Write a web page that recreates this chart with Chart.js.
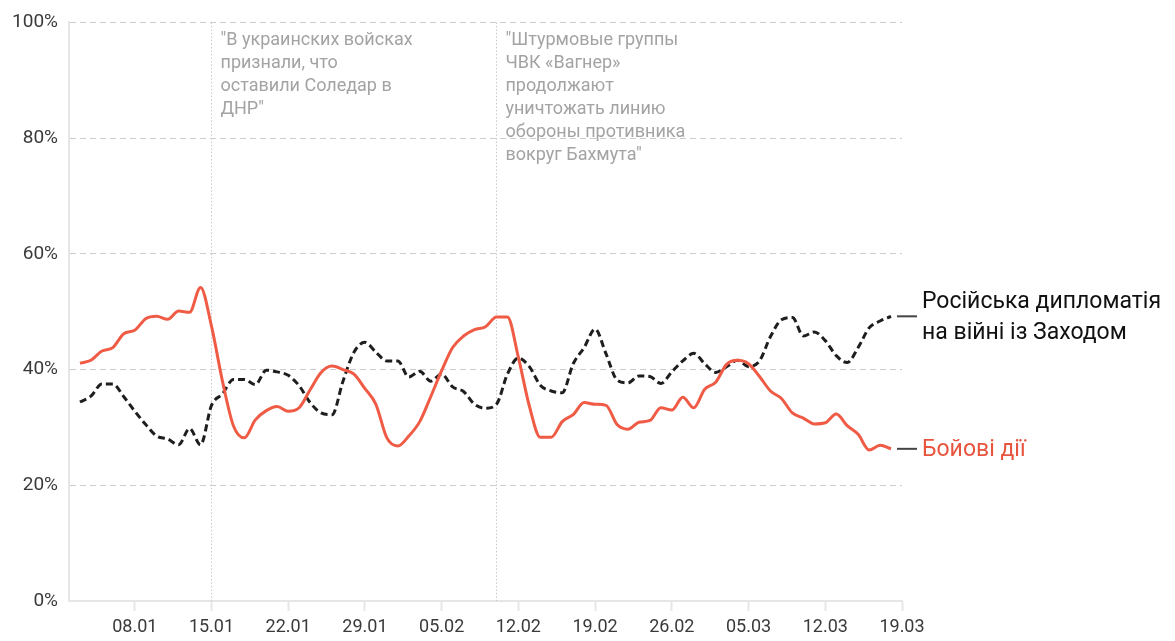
<!DOCTYPE html>
<html><head><meta charset="utf-8">
<script src="https://cdn.jsdelivr.net/npm/chart.js@4.4.1/dist/chart.umd.min.js"></script>
<style>html,body{margin:0;padding:0;background:#fff}#wrap{width:1175px;height:641px;position:relative}</style>
</head><body><div id="wrap"><canvas id="c"></canvas></div>
<script>
// ---- data ----
const dates = ['03.01','04.01','05.01','06.01','07.01','08.01','09.01','10.01','11.01','12.01','13.01','14.01','15.01','16.01','17.01','18.01','19.01','20.01','21.01','22.01','23.01','24.01','25.01','26.01','27.01','28.01','29.01','30.01','31.01','01.02','02.02','03.02','04.02','05.02','06.02','07.02','08.02','09.02','10.02','11.02','12.02','13.02','14.02','15.02','16.02','17.02','18.02','19.02','20.02','21.02','22.02','23.02','24.02','25.02','26.02','27.02','28.02','01.03','02.03','03.03','04.03','05.03','06.03','07.03','08.03','09.03','10.03','11.03','12.03','13.03','14.03','15.03','16.03','17.03','18.03'];
const combat = [41.1,41.6,43.2,43.8,46.2,46.8,48.8,49.2,48.7,50.1,49.9,54.2,47.5,38,30.3,28.2,31.3,32.9,33.6,32.8,33.4,36.5,39.5,40.6,40,39.2,36.7,34,28.2,26.8,28.5,31,35.3,39.8,43.8,45.8,46.9,47.4,49.1,49.1,42.1,33.7,28.3,28.3,31,32.2,34.3,34,33.8,30.5,29.7,30.9,31.2,33.4,33,35.2,33.4,36.6,37.8,40.9,41.6,41,38.8,36.3,35,32.5,31.6,30.6,30.8,32.3,30.3,28.8,26.1,26.9,26.3];
const diplomacy = [34.4,35.4,37.5,37.5,35.3,32.8,30.5,28.5,28,27,29.8,27,33.8,35.8,38.3,38.3,37.4,39.9,39.6,39,37.2,34.3,32.5,32.2,38,43,44.7,43,41.5,41.5,38.7,39.7,38,39.2,37,36.2,34,33.3,34,39.2,42,40.5,37.3,36.3,36,41,43.8,47,42.7,38.2,37.7,38.9,38.8,37.6,39.6,41.5,42.8,41,39.5,40.5,41.6,40.5,41.5,45.7,48.6,49,45.8,46.5,45,42.4,41.2,43.8,47.2,48.4,49.2];
const axisStart = '02.01';
const axisEnd = '19.03';
const tickLabels = ['08.01','15.01','22.01','29.01','05.02','12.02','19.02','26.02','05.03','12.03','19.03'];
const yTicks = [0,20,40,60,80,100];
const seriesNames = ['Бойові дії', ['Російська дипломатія','на війні із Заходом']];
const annotationDates = ['15.01','10.02'];
const annotationTexts = [
  ['"В украинских войсках','признали, что','оставили Соледар в','ДНР"'],
  ['"Штурмовые группы','ЧВК «Вагнер»','продолжают','уничтожать линию','обороны противника','вокруг Бахмута"']
];

// ---- helpers ----
const FONT = 'Roboto, "Noto Sans", sans-serif';
function dayNum(s){const [d,m]=s.split('.').map(Number);const [d0,m0]=axisStart.split('.').map(Number);return (Date.UTC(2023,m-1,d)-Date.UTC(2023,m0-1,d0))/86400000;}
const tickDays = tickLabels.map(dayNum);
const RED = '#ef5b45';

const overlay = {
  id:'overlay',
  beforeDatasetsDraw(chart){
    const {ctx, chartArea:a, scales:{x}} = chart;
    ctx.save();
    ctx.strokeStyle = '#c8c8c8'; ctx.lineWidth = 1; ctx.setLineDash([1.5,2]);
    annotationDates.forEach((d,i)=>{
      const px = Math.round(x.getPixelForValue(dayNum(d)))+0.5;
      ctx.beginPath(); ctx.moveTo(px,a.top); ctx.lineTo(px,a.bottom); ctx.stroke();
    });
    ctx.setLineDash([]);
    ctx.fillStyle = '#a3a3a3'; ctx.font = '18px '+FONT; ctx.textBaseline='middle'; ctx.textAlign='left';
    annotationDates.forEach((d,i)=>{
      const px = x.getPixelForValue(dayNum(d));
      annotationTexts[i].forEach((t,j)=>ctx.fillText(t, px+9, a.top+18+j*23));
    });
    ctx.restore();
  },
  afterDraw(chart){
    const {ctx, chartArea:a, scales:{y}} = chart;
    ctx.save();
    chart.data.datasets.forEach((ds,i)=>{
      const last = ds.data[ds.data.length-1].y;
      const py = y.getPixelForValue(last);
      ctx.strokeStyle = '#444'; ctx.lineWidth = 2;
      ctx.beginPath(); ctx.moveTo(a.right-5, py); ctx.lineTo(a.right+15, py); ctx.stroke();
      ctx.font = '23px '+FONT; ctx.textBaseline='middle'; ctx.textAlign='left';
      ctx.fillStyle = i===0 ? '#e8553f' : '#111';
      const lines = Array.isArray(seriesNames[i]) ? seriesNames[i] : [seriesNames[i]];
      const lh = 31; const y0 = py - (lines.length-1)*lh/2 + 1;
      lines.forEach((t,j)=>ctx.fillText(t, a.right+20, y0+j*lh));
    });
    ctx.restore();
  }
};

new Chart(document.getElementById('c'), {
  type:'line',
  data:{datasets:[
    {label:'combat', data:dates.map((d,i)=>({x:dayNum(d),y:combat[i]})), borderColor:RED, borderWidth:3, pointRadius:0, cubicInterpolationMode:'monotone', fill:false},
    {label:'diplomacy', data:dates.map((d,i)=>({x:dayNum(d),y:diplomacy[i]})), borderColor:'#1e1e1e', borderWidth:3, borderDash:[7,4], pointRadius:0, cubicInterpolationMode:'monotone', fill:false}
  ]},
  options:{
    responsive:true, maintainAspectRatio:false, animation:false,
    layout:{padding:{left:0,right:273,top:20,bottom:0}},
    plugins:{legend:{display:false}, tooltip:{enabled:false}},
    scales:{
      x:{type:'linear', min:dayNum(axisStart), max:dayNum(axisEnd),
        afterBuildTicks(s){s.ticks = tickDays.map(v=>({value:v}));},
        afterFit(s){s.height=40;},
        ticks:{autoSkip:false, maxRotation:0, padding:6, color:'#3a3a3a', font:{family:FONT,size:18},
          callback:(v)=>{const k=tickDays.indexOf(v);return k>=0?tickLabels[k]:'';}},
        grid:{drawOnChartArea:false, drawTicks:true, tickLength:10, tickColor:'#e6e6e6', tickWidth:2},
        border:{display:true, color:'#e6e6e6', width:2}
      },
      y:{min:0,max:100,
        afterBuildTicks(s){s.ticks = yTicks.map(v=>({value:v}));},
        afterFit(s){s.width=69;},
        ticks:{padding:11, color:'#3a3a3a', font:{family:FONT,size:19}, callback:v=>v+'%'},
        grid:{drawTicks:false, color:(c)=>c.tick&&c.tick.value===0?'rgba(0,0,0,0)':'#cccccc', lineWidth:1},
        border:{display:true, color:'#e6e6e6', width:2, dash:[6,4]}
      }
    }
  },
  plugins:[overlay]
});
</script></body></html>
